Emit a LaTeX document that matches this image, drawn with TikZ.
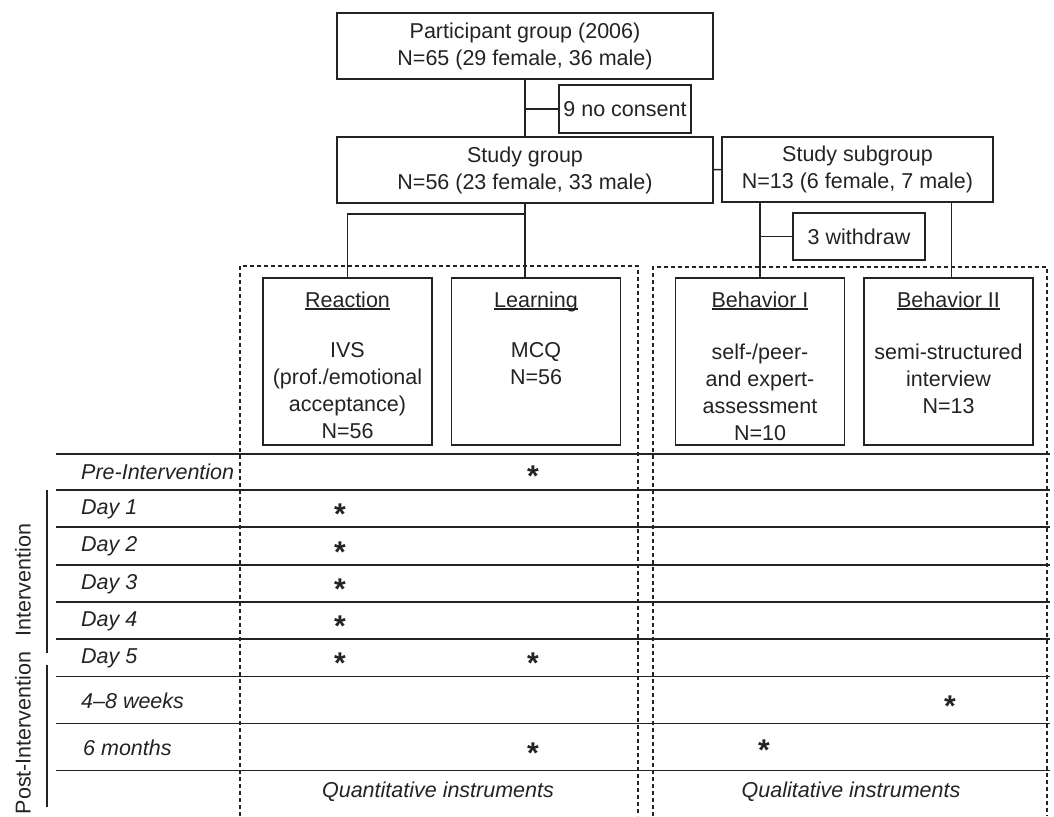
\documentclass[tikz,border=0pt]{standalone}
\usepackage{fontspec}
\setmainfont{Liberation Sans}
\usepackage{xcolor}
\usetikzlibrary{positioning}
\definecolor{ink}{RGB}{35,35,35}
\newcommand{\hdr}[1]{\setbox0\hbox{#1}\rlap{\rule[-2.6pt]{\wd0}{1.2pt}}\box0}

\begin{document}
\begin{tikzpicture}[x=1pt, y=-1pt, node distance=18pt,
      every node/.style={font=\fontsize{21.5}{27}\selectfont, text=ink},
      grp/.style={draw=ink, line width=1.5pt, inner sep=0pt, align=center},
      instr/.style={draw=ink, line width=1.5pt, inner sep=0pt,
                    minimum width=169pt, minimum height=167pt},
      instrtxt/.style={anchor=north, inner sep=0pt, align=center, yshift=-14pt},
      ln/.style={draw=ink, line width=1.5pt},
      dsh/.style={draw=ink, line width=1.1pt, dash pattern=on 4pt off 3pt},
      rowlbl/.style={anchor=west, inner sep=0pt, font=\fontsize{21.5}{27}\selectfont\itshape},
      star/.style={inner sep=0pt, font=\fontsize{30}{30}\selectfont\bfseries}]
    \useasboundingbox (0,0) rectangle (1054,816);

    % flow of participants
    \node[grp, minimum width=376pt, minimum height=66pt] (part) at (525,46)
      {Participant group (2006)\\N=65 (29 female, 36 male)};
    \node[grp, minimum width=132pt, minimum height=48pt] (nocons) at (625,109) {9 no consent};
    \node[grp, minimum width=376pt, minimum height=66pt] (study) at (525,170)
      {Study group\\N=56 (23 female, 33 male)};
    \node[grp, minimum width=271pt, minimum height=65pt] (sub) at (857.5,169.5)
      {Study subgroup\\N=13 (6 female, 7 male)};
    \node[grp, minimum width=132pt, minimum height=47pt] (withd) at (859,236.5) {3 withdraw};

    % instruments
    \node[instr] (reac) at (347.5,361.5) {};
    \node[instr, right=of reac] (learn) {};
    \node[instr] (beh1) at (760,361.5) {};
    \node[instr, right=of beh1] (beh2) {};
    \node[instrtxt] (reactxt) at (reac.north)
      {\hdr{Reaction}\\[23pt]IVS\\(prof./emotional\\acceptance)\\N=56};
    \node[instrtxt] (learntxt) at (learn.north) {\hdr{Learning}\\[23pt]MCQ\\N=56};
    \node[instrtxt] (beh1txt) at (beh1.north)
      {\hdr{Behavior I}\\[25pt]self-/peer-\\and expert-\\assessment\\N=10};
    \node[instrtxt] (beh2txt) at (beh2.north)
      {\hdr{Behavior II}\\[25pt]semi-structured\\interview\\N=13};

    \draw[ln] (part) -- (study);
    \draw[ln] (nocons.west) -- (nocons.west -| part.south);
    \draw[ln] (study) -- (sub);
    \draw[ln] (study.south) -- ++(0,10) -| (reac.north);
    \draw[ln] (study.south) -- (study.south |- learn.north);
    \draw[ln] (beh1.north |- sub.south) -- (beh1.north);
    \draw[ln] ([xshift=3pt]beh2.north |- sub.south) -- ([xshift=3pt]beh2.north);
    \draw[ln] (withd.west) -- (withd.west -| beh1.north);

    % time table
    \foreach \y in {454,490,527,565,602,639,676.5,723.5,770.5}
      \draw[ln] (56,\y) -- (1050,\y);
    \draw[dsh] (240,816) -- (240,266) -- (638,266) -- (638,816);
    \draw[dsh] (653,816) -- (653,267) -- (1047,267) -- (1047,816);

    \foreach \t/\x/\y [count=\i] in {Pre-Intervention/81/472, Day 1/81/509, Day 2/81/546.5,
        Day 3/81/584, Day 4/81/621, Day 5/81/658.5, 4--8 weeks/81/701, 6 months/83/748}
      \node[rowlbl] (row\i) at (\x,\y) {\t};

    \node[rotate=90] (intv) at (23,580) {Intervention};
    \node[rotate=90] (postintv) at (23,733) {Post-Intervention};
    \draw[ln] (47,490) -- (47,653);
    \draw[ln] (47,665) -- (47,807);

    \foreach \x/\y [count=\i] in {533/470, 340/508, 340/546, 340/583, 340/620, 340/657,
        533/657, 950/700, 533/747, 764/744}
      \node[star] (ast\i) at (\x,{\y+6}) {*};

    \node (quant) at (438,792) {\itshape Quantitative instruments};
    \node (qual) at (851,792) {\itshape Qualitative instruments};
  \end{tikzpicture}
\end{document}
